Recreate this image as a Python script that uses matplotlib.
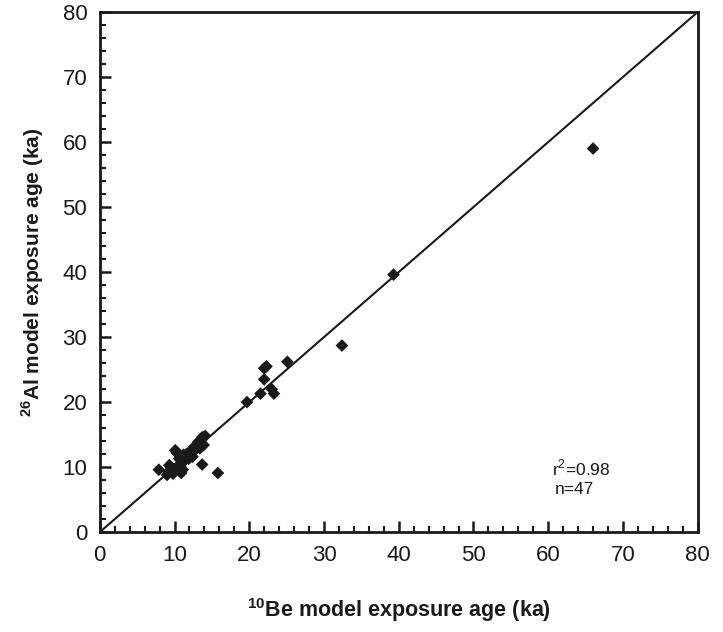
import matplotlib
matplotlib.use("Agg")
import matplotlib.pyplot as plt
from matplotlib.ticker import MultipleLocator

# 10Be vs 26Al model exposure ages (ka)
be10 = [7.9, 9.0, 9.2, 9.3, 9.7, 9.5, 10.1, 10.3, 10.6, 10.9, 10.8, 11.0, 11.2,
        11.5, 11.9, 11.7, 12.2, 12.6, 12.9, 13.2, 13.5, 13.7, 13.9, 13.7, 14.1,
        10.0, 10.4, 11.3, 12.4, 13.0, 9.8, 11.1,
        15.8, 19.7, 21.5, 22.0, 22.0, 22.3, 23.0, 23.3, 25.1, 32.4, 39.3, 66.0,
        12.0, 10.7, 13.4]
al26 = [9.6, 8.8, 9.3, 10.3, 9.8, 10.0, 12.6, 12.2, 11.3, 9.1, 10.0, 10.6, 11.9,
        11.8, 11.3, 12.1, 12.4, 13.1, 12.8, 13.9, 14.2, 14.6, 13.4, 10.4, 14.8,
        9.4, 10.1, 11.0, 11.6, 13.3, 9.0, 9.6,
        9.1, 20.0, 21.3, 25.2, 23.5, 25.5, 22.0, 21.3, 26.2, 28.7, 39.6, 59.0,
        12.0, 11.8, 12.9]
one_to_one = [0, 80]

plt.rcParams['font.family'] = ['Liberation Sans', 'DejaVu Sans']
plt.rcParams['mathtext.fontset'] = 'custom'
plt.rcParams['mathtext.rm'] = 'Liberation Sans'
plt.rcParams['mathtext.bf'] = 'Liberation Sans:bold'

fig = plt.figure(figsize=(7.23, 6.32), dpi=100)
ax = fig.add_axes([0.138, 0.158, 0.827, 0.823])

ax.plot(one_to_one, one_to_one, color='#1a1a1a', lw=1.5, zorder=2)
ax.scatter(be10, al26, marker='D', s=42, color='#1a1a1a', edgecolors='none', zorder=3)

ax.set_xlim(0, 80)
ax.set_ylim(0, 80)
ax.xaxis.set_major_locator(MultipleLocator(10))
ax.yaxis.set_major_locator(MultipleLocator(10))
ax.xaxis.set_minor_locator(MultipleLocator(2))
ax.yaxis.set_minor_locator(MultipleLocator(2))
ax.tick_params(which='major', direction='in', length=8, width=1.8,
               labelsize=16, colors='#1a1a1a', pad=9)
ax.tick_params(which='minor', direction='in', length=4, width=1.5, colors='#1a1a1a')
for s in ax.spines.values():
    s.set_linewidth(2)
    s.set_color('#1a1a1a')

ax.set_xlabel(r'$^{\mathbf{10}}$Be model exposure age (ka)', fontsize=15.5,
              fontweight='bold', labelpad=22, color='#1a1a1a')
ax.set_ylabel(r'$^{\mathbf{26}}$Al model exposure age (ka)', fontsize=15,
              fontweight='bold', labelpad=12, color='#1a1a1a')

ax.text(60.5, 9.9, r'r$^2$=0.98', fontsize=12.5, va='center', ha='left', color='#1a1a1a')
ax.text(60.9, 6.5, 'n=47', fontsize=12.5, va='center', ha='left', color='#1a1a1a')

fig.savefig('out.png', dpi=100)
